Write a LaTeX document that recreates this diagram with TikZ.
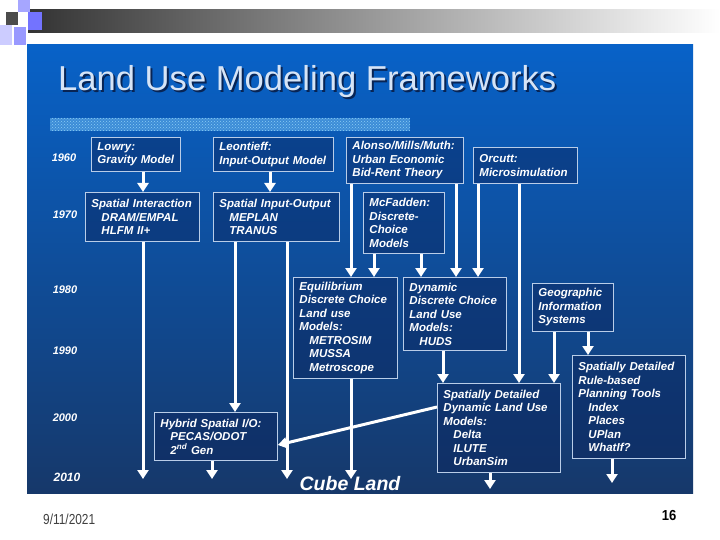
\documentclass[tikz,border=0pt]{standalone}
\usepackage{fontspec}
\setmainfont{Liberation Sans}
\usetikzlibrary{arrows.meta,positioning,patterns,calc}
\definecolor{panelTop}{RGB}{8,98,200}
\definecolor{panelBot}{RGB}{22,56,106}
\definecolor{boxline}{RGB}{185,205,232}
\definecolor{boxfill}{RGB}{10,36,92}
\definecolor{titletxt}{RGB}{214,228,246}
\definecolor{titleshd}{RGB}{8,36,84}
\definecolor{bandbase}{RGB}{60,140,215}
\definecolor{banddot}{RGB}{140,205,245}
\newcommand{\ind}{\hspace*{10pt}}
\tikzset{
  fw/.style 2 args={rectangle, draw=boxline, line width=0.9pt, fill=boxfill, fill opacity=0.45,
              text opacity=1, text=white, anchor=north west, align=left, inner xsep=6pt,
              inner ysep=1pt, text width=#1, minimum height=#2,
              font=\fontsize{11.5}{13.5}\selectfont\bfseries\itshape},
  yr/.style={text=white, inner sep=0pt, font=\fontsize{11}{13}\selectfont\bfseries\itshape},
  ar/.style={draw=white, line width=3pt, -{Triangle[length=9pt,width=11pt]}},
}

\begin{document}
\begin{tikzpicture}[x=1pt,y=-1pt]
\useasboundingbox (0,0) rectangle (720,540);
\fill[white] (0,0) rectangle (720,540);

% ===================== slide frame =========================
\shade[left color=black!80, middle color=black!32, right color=white] (28,10) rectangle (720,33);
\fill[black!70] (6,12) rectangle (18,25);
\fill[blue!35!white] (18,0) rectangle (30,12);
\fill[blue!55!white] (28,12) rectangle (42,30);
\fill[blue!20!white] (0,25) rectangle (12,45);
\fill[blue!40!white] (14,27) rectangle (26,45);
\shade[top color=panelTop, bottom color=panelBot] (27,45) rectangle (693,493);

\node[anchor=base west, inner sep=0pt, font=\fontsize{34.6}{40}\selectfont, text=titleshd]
  (titleshadow) at (60,93) {Land Use Modeling Frameworks};
\node[anchor=base west, inner sep=0pt, font=\fontsize{34.6}{40}\selectfont, text=titletxt]
  (title) at (58,91) {Land Use Modeling Frameworks};

\fill[bandbase] (50,118) rectangle (410,131);
\fill[pattern=crosshatch dots, pattern color=banddot] (50,118) rectangle (410,131);

% ===================== time axis =========================
\node[yr] (y1960) at (64,158) {1960};
\node[yr] (y1970) at (65,215) {1970};
\node[yr] (y1980) at (65,290) {1980};
\node[yr] (y1990) at (65,351) {1990};
\node[yr] (y2000) at (65,418) {2000};
\node[yr, font=\fontsize{12}{14}\selectfont\bfseries\itshape] (y2010) at (67,477) {2010};

% ===================== frameworks =========================
\node[fw={77pt}{34pt}] (lowry) at (91,137) {Lowry:\\Gravity Model};
\node[fw={108pt}{34pt}] (leon) at (213,137) {Leontieff:\\Input-Output Model};
\node[fw={105pt}{46pt}] (alonso) at (346,137) {Alonso/Mills/Muth:\\Urban Economic\\Bid-Rent Theory};
\node[fw={92pt}{36pt}] (orcutt) at (473,147) {Orcutt:\\Microsimulation};

\node[fw={102pt}{49pt}] (spint) at (85,192) {Spatial Interaction\\\ind DRAM/EMPAL\\\ind HLFM II+};
\node[fw={114pt}{49pt}] (spio) at (213,192) {Spatial Input-Output\\\ind MEPLAN\\\ind TRANUS};
\node[fw={69pt}{61pt}] (mcf) at (363,192) {McFadden:\\Discrete-\\Choice\\Models};

\node[fw={92pt}{101pt}] (equil) at (293,277)
  {Equilibrium\\Discrete Choice\\Land use\\Models:\\\ind METROSIM\\\ind MUSSA\\\ind Metroscope};
\node[fw={91pt}{73pt}] (dyn) at (403,277)
  {Dynamic\\Discrete Choice\\Land Use\\Models:\\\ind HUDS};
\node[fw={69pt}{48pt}] (gis) at (532,283) {Geographic\\Information\\Systems};

\node[fw={101pt}{103pt}] (rule) at (572,355)
  {Spatially Detailed\\Rule-based\\Planning Tools\\\ind Index\\\ind Places\\\ind UPlan\\\ind WhatIf?};
\node[fw={111pt}{89pt}] (sdd) at (437,383)
  {Spatially Detailed\\Dynamic Land Use\\Models:\\\ind Delta\\\ind ILUTE\\\ind UrbanSim};
\node[fw={111pt}{48pt}] (hyb) at (154,412)
  {Hybrid Spatial I/O:\\\ind PECAS/ODOT\\\ind 2\textsuperscript{nd} Gen};

\node[anchor=base, inner sep=0pt, text=white, font=\fontsize{19.5}{22}\selectfont\bfseries\itshape]
  (cube) at (350,490) {Cube Land};

% ===================== influences =========================
\coordinate (floor) at (0,479);
\coordinate (floorb) at (0,489);
\coordinate (floorc) at (0,483);
\foreach \xx/\a/\b in {143/lowry/spint, 270/leon/spio, 235/spio/hyb, 351/alonso/equil,
    374/mcf/equil, 456/alonso/dyn, 421/mcf/dyn, 478/orcutt/dyn, 519/orcutt/sdd,
    443/dyn/sdd, 554/gis/sdd, 588/gis/rule}
  \draw[ar] (\a.south -| \xx,0) -- (\b.north -| \xx,0);
\foreach \xx/\a in {143/spint, 287/spio, 351/equil, 212/hyb}
  \draw[ar] (\a.south -| \xx,0) -- (floor -| \xx,0);
\draw[ar] (sdd.south -| 490,0) -- (floorb -| 490,0);
\draw[ar] (rule.south -| 612,0) -- (floorc -| 612,0);
\draw[ar] (sdd.west |- 0,407) -- (hyb.east |- 0,445);

% ===================== footer =========================
\node[anchor=base west, inner sep=0pt, font=\fontsize{14.5}{16}\selectfont, text=black!75]
  (date) at (43,524) {\scalebox{0.82}[1]{9/11/2021}};
\node[anchor=base, inner sep=0pt, font=\fontsize{14.5}{16}\selectfont\bfseries]
  (page) at (669,520) {\scalebox{0.9}[1]{16}};
\end{tikzpicture}
\end{document}
